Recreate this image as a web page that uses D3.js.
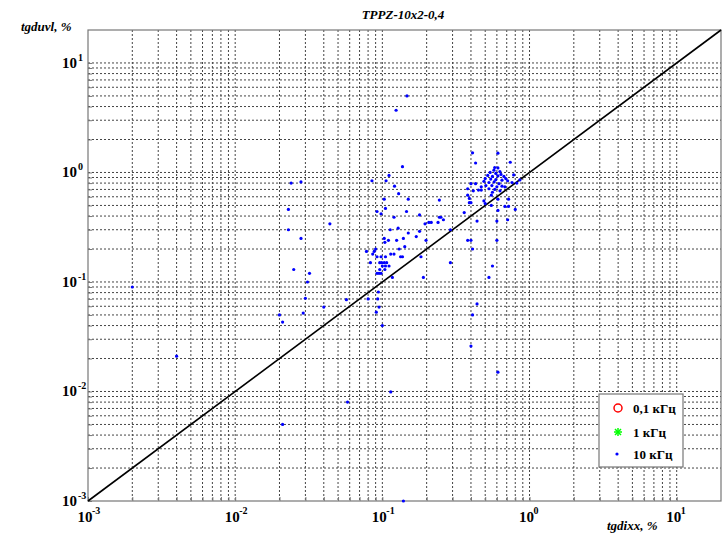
<!DOCTYPE html>
<html>
<head>
<meta charset="utf-8">
<script src="https://cdn.jsdelivr.net/npm/d3@7"></script>
<style>
body { margin: 0; background: #fff; }
text { font-family: "Liberation Serif", "DejaVu Serif", serif; font-weight: bold; }
</style>
</head>
<body>
<div id="chart"></div>
<script>
var svgWidth = 724;
var svgHeight = 536;

var margin = { top: 30, right: 3, bottom: 35, left: 88 };
var width = svgWidth - margin.left - margin.right;
var height = svgHeight - margin.top - margin.bottom;

// series: [tgdixx, tgduvl] in %
var khz01 = [];
var khz1 = [];
var khz10 = [
  [0.002, 0.09], [0.004, 0.021], [0.021, 0.005], [0.058, 0.008], [0.114, 0.0099], [0.139, 0.001],
  [0.40, 0.026], [0.61, 0.015], [0.020, 0.050], [0.021, 0.043], [0.029, 0.052], [0.040, 0.059],
  [0.057, 0.069], [0.095, 0.059], [0.091, 0.053], [0.10, 0.040],
  [0.137, 1.13], [0.111, 0.94], [0.024, 0.80], [0.028, 0.82], [0.085, 0.84], [0.106, 0.84],
  [0.121, 0.75], [0.129, 0.64], [0.103, 0.57], [0.150, 0.57], [0.244, 0.56], [0.023, 0.46],
  [0.092, 0.44], [0.105, 0.47], [0.098, 0.42], [0.146, 0.44], [0.179, 0.41], [0.244, 0.39],
  [0.120, 0.39], [0.128, 0.31], [0.113, 0.30], [0.195, 0.34], [0.207, 0.35], [0.215, 0.35],
  [0.239, 0.35], [0.023, 0.30], [0.044, 0.34], [0.028, 0.25], [0.179, 0.29], [0.150, 0.28],
  [0.170, 0.26], [0.139, 0.25], [0.103, 0.25], [0.104, 0.23], [0.110, 0.24], [0.125, 0.24],
  [0.198, 0.24], [0.130, 0.20], [0.142, 0.21], [0.078, 0.19], [0.086, 0.18], [0.088, 0.19],
  [0.090, 0.20], [0.092, 0.17], [0.098, 0.17], [0.105, 0.17], [0.114, 0.18], [0.120, 0.18],
  [0.133, 0.17], [0.137, 0.17], [0.183, 0.17], [0.083, 0.15], [0.096, 0.15], [0.099, 0.15],
  [0.103, 0.15], [0.107, 0.15], [0.100, 0.14], [0.105, 0.14], [0.111, 0.14], [0.096, 0.13],
  [0.104, 0.13], [0.025, 0.13], [0.032, 0.12], [0.092, 0.12], [0.095, 0.12], [0.098, 0.12],
  [0.190, 0.11], [0.117, 0.11], [0.031, 0.10], [0.094, 0.081], [0.030, 0.071], [0.080, 0.070],
  [0.093, 0.070], [0.147, 5.0], [0.124, 3.7],
  [0.41, 1.51], [0.61, 1.50], [0.43, 1.22], [0.74, 1.24], [0.58, 1.11], [0.40, 0.79], [0.38, 0.71],
  [0.415, 0.68], [0.47, 0.74], [0.47, 0.69], [0.71, 0.84], [0.76, 0.81], [0.86, 0.855], [0.45, 0.69],
  [0.38, 0.62], [0.39, 0.58], [0.39, 0.53], [0.40, 0.53], [0.49, 0.55], [0.55, 0.62], [0.55, 0.50],
  [0.61, 0.57], [0.72, 0.57], [0.50, 0.52], [0.61, 0.45], [0.72, 0.49], [0.80, 0.46], [0.36, 0.43],
  [0.44, 0.36], [0.60, 0.36], [0.71, 0.37], [0.25, 0.39], [0.26, 0.37], [0.29, 0.30], [0.38, 0.24],
  [0.40, 0.24], [0.41, 0.20], [0.60, 0.24], [0.29, 0.15], [0.56, 0.14], [0.53, 0.11], [0.44, 0.063],
  [0.41, 0.050], [0.78, 0.95], [0.82, 0.80], [0.68, 0.74], [0.43, 0.79], [0.68, 0.49],
  [0.573, 1.05], [0.610, 1.10], [0.629, 1.02], [0.540, 1.00], [0.590, 0.98], [0.640, 0.96],
  [0.520, 0.94], [0.560, 0.92], [0.610, 0.93], [0.670, 0.92], [0.500, 0.88], [0.545, 0.87],
  [0.590, 0.86], [0.650, 0.85], [0.530, 0.81], [0.575, 0.82], [0.620, 0.79], [0.505, 0.76],
  [0.555, 0.76], [0.600, 0.74], [0.650, 0.75], [0.530, 0.71], [0.580, 0.70], [0.630, 0.68],
  [0.490, 0.83], [0.560, 0.66], [0.690, 0.88]
];

var decades = [-3, -2, -1, 0, 1];
var legendLabels = ["0,1 кГц", "1 кГц", "10 кГц"];

var svg = d3.select("#chart")
  .append("svg")
  .attr("width", svgWidth)
  .attr("height", svgHeight);

var chartGroup = svg.append("g")
  .attr("transform", `translate(${margin.left}, ${margin.top})`);

var xScale = d3.scaleLog().domain([1e-3, 20]).range([0, width]);
var yScale = d3.scaleLog().domain([1e-3, 20]).range([height, 0]);

// grid values for every decade and minor step
var gridVals = [];
decades.forEach(function(d) {
  for (var k = 1; k <= 9; k++) {
    var v = k * Math.pow(10, d);
    if (v > 1e-3 * 1.001 && v < 20 * 0.999) gridVals.push(v);
  }
});

chartGroup.append("g").selectAll("line")
  .data(gridVals)
  .enter()
  .append("line")
  .attr("x1", d => xScale(d)).attr("x2", d => xScale(d))
  .attr("y1", 0).attr("y2", height)
  .attr("stroke", "#444")
  .attr("stroke-dasharray", "2,2");

chartGroup.append("g").selectAll("line")
  .data(gridVals)
  .enter()
  .append("line")
  .attr("y1", d => yScale(d)).attr("y2", d => yScale(d))
  .attr("x1", 0).attr("x2", width)
  .attr("stroke", "#444")
  .attr("stroke-dasharray", "2,2");

// axes box
chartGroup.append("rect")
  .attr("width", width)
  .attr("height", height)
  .attr("fill", "none")
  .attr("stroke", "#777")
  .attr("stroke-width", 1.2);

// tick marks inside
var bottomAxis = d3.axisBottom(xScale).tickValues(gridVals.concat([1e-3])).tickSize(-4).tickFormat("");
var leftAxis = d3.axisLeft(yScale).tickValues(gridVals.concat([1e-3])).tickSize(-4).tickFormat("");
chartGroup.append("g").attr("transform", `translate(0, ${height})`).call(bottomAxis)
  .call(g => g.select(".domain").remove())
  .selectAll("line").attr("stroke", "#777");
chartGroup.append("g").call(leftAxis)
  .call(g => g.select(".domain").remove())
  .selectAll("line").attr("stroke", "#777");

// diagonal y = x
chartGroup.append("line")
  .attr("x1", xScale(1e-3)).attr("y1", yScale(1e-3))
  .attr("x2", xScale(20)).attr("y2", yScale(20))
  .attr("stroke", "#000")
  .attr("stroke-width", 1.6);

// points
chartGroup.append("g").selectAll("circle")
  .data(khz10)
  .enter()
  .append("circle")
  .attr("cx", d => xScale(d[0]))
  .attr("cy", d => yScale(d[1]))
  .attr("r", 1.6)
  .attr("fill", "#0000ff");

// tick labels
decades.forEach(function(d) {
  var x = xScale(Math.pow(10, d));
  chartGroup.append("text")
    .attr("x", x - 3).attr("y", height + 21)
    .attr("text-anchor", "middle")
    .style("font-size", "15px")
    .text("10");
  chartGroup.append("text")
    .attr("x", x + 4).attr("y", height + 13)
    .style("font-size", "10px")
    .text(d);

  var y = yScale(Math.pow(10, d));
  chartGroup.append("text")
    .attr("x", -11).attr("y", y + 5)
    .attr("text-anchor", "end")
    .style("font-size", "15px")
    .text("10");
  chartGroup.append("text")
    .attr("x", -10).attr("y", y - 2)
    .style("font-size", "10px")
    .text(d);
});

// title and axis labels
svg.append("text")
  .attr("x", 403).attr("y", 19)
  .attr("text-anchor", "middle")
  .style("font-size", "13px")
  .style("font-style", "italic")
  .text("TPPZ-10x2-0,4");

svg.append("text")
  .attr("x", 21).attr("y", 31)
  .style("font-size", "13px")
  .style("font-style", "italic")
  .text("tgduvl, %");

svg.append("text")
  .attr("x", 607).attr("y", 530)
  .style("font-size", "13px")
  .style("font-style", "italic")
  .text("tgdixx, %");

// legend
var legend = svg.append("g").attr("transform", "translate(599, 394)");
legend.append("rect")
  .attr("width", 84).attr("height", 73)
  .attr("fill", "#fff")
  .attr("stroke", "#777")
  .attr("stroke-width", 1.2);

var rows = [14, 38, 60];
legend.append("circle")
  .attr("cx", 19).attr("cy", rows[0]).attr("r", 4)
  .attr("fill", "none").attr("stroke", "#ff0000").attr("stroke-width", 1.5);

var star = legend.append("g").attr("transform", `translate(19, ${rows[1]})`)
  .attr("stroke", "#00ff00").attr("stroke-width", 1.5);
[[-4, 0, 4, 0], [0, -4, 0, 4], [-3, -3, 3, 3], [-3, 3, 3, -3]].forEach(function(s) {
  star.append("line").attr("x1", s[0]).attr("y1", s[1]).attr("x2", s[2]).attr("y2", s[3]);
});

legend.append("circle")
  .attr("cx", 18).attr("cy", rows[2]).attr("r", 1.6)
  .attr("fill", "#0000ff");

legend.selectAll("text.lbl")
  .data(legendLabels)
  .enter()
  .append("text")
  .attr("class", "lbl")
  .attr("x", 34)
  .attr("y", (d, i) => rows[i] + 5)
  .style("font-size", "13px")
  .text(d => d);
</script>
</body>
</html>
